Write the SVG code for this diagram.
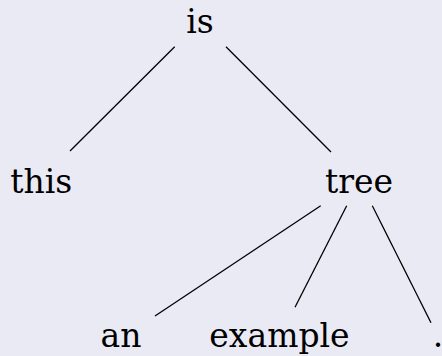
<svg xmlns="http://www.w3.org/2000/svg" width="442" height="356" viewBox="0 0 442 356">
<style>
text{font-family:"DejaVu Serif","Liberation Serif",serif;font-size:33px;fill:#000;text-anchor:middle}
line{stroke:#000;stroke-width:1.3}
</style>
<rect width="442" height="356" fill="#eaeaf5"/>
<g id="connectors">
<line x1="174.7" y1="46.7" x2="70" y2="151"/>
<line x1="226" y1="46.7" x2="331" y2="152"/>
<line x1="320.7" y1="205.7" x2="155" y2="316"/>
<line x1="346.7" y1="205.7" x2="295" y2="307.3"/>
<line x1="372.3" y1="205.7" x2="431" y2="322.7"/>
</g>
<g id="is"><text x="200" y="33.3">is</text></g>
<g id="this"><text x="41.3" y="192.7">this</text></g>
<g id="tree"><text x="359" y="192.7">tree</text></g>
<g id="an"><text x="121" y="346.7">an</text></g>
<g id="example"><text x="279.5" y="346.7">example</text></g>
<g id="dot"><text x="438" y="346.7">.</text></g>
</svg>
